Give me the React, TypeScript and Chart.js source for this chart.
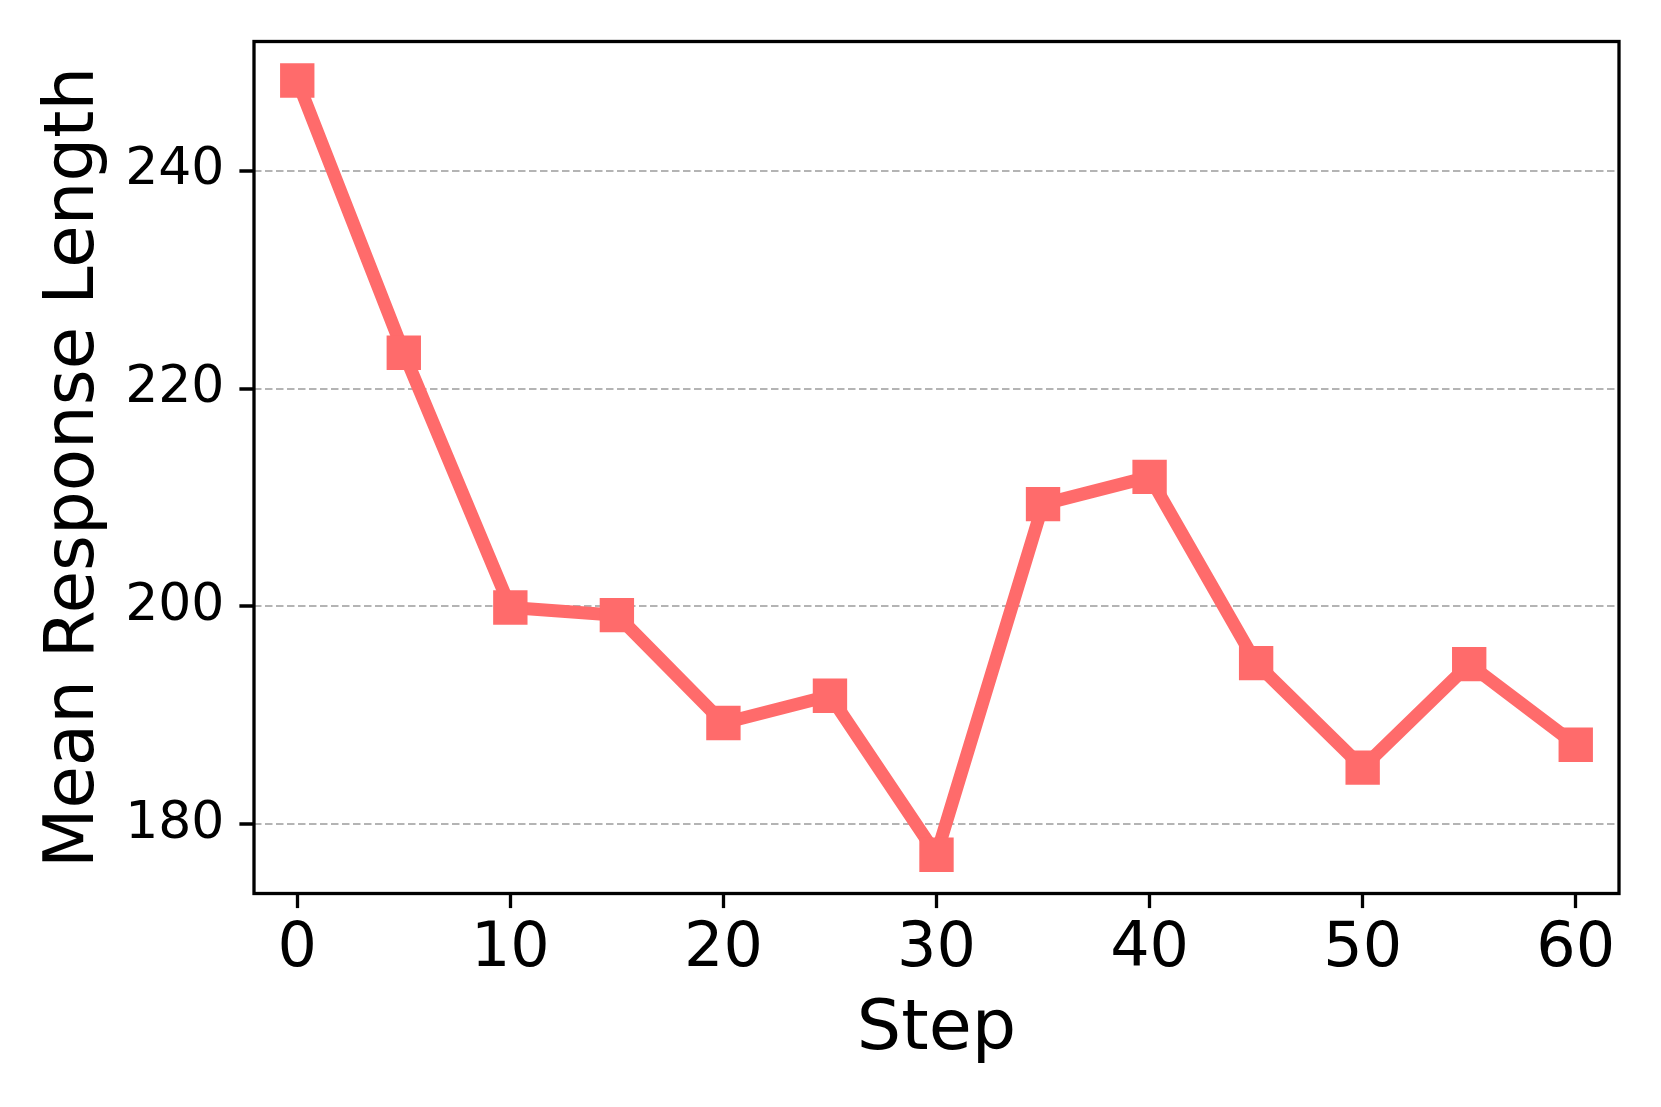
import React, { useEffect, useRef } from "react";
import { Chart, registerables } from "chart.js";

Chart.register(...registerables);

const steps = [0, 5, 10, 15, 20, 25, 30, 35, 40, 45, 50, 55, 60];
const meanLength = [248.3, 223.3, 199.9, 199.2, 189.3, 191.8, 177.2, 209.4, 211.9, 194.8, 185.2, 194.7, 187.3];
const xTicks = [0, 10, 20, 30, 40, 50, 60];
const yTicks = [180, 200, 220, 240];
const xRange = [-2.03, 62.03];
const yRange = [173.64, 251.88];

const W = 1661;
const H = 1107;
const FONT = "'DejaVu Sans', sans-serif";

const framePlugin = {
  id: "frame",
  afterDraw(chart: any) {
    const { ctx, chartArea } = chart;
    ctx.save();
    ctx.strokeStyle = "#000000";
    ctx.lineWidth = 3.3;
    ctx.strokeRect(chartArea.left, chartArea.top, chartArea.right - chartArea.left, chartArea.bottom - chartArea.top);
    ctx.restore();
  },
};

export default function App() {
  const ref = useRef<HTMLCanvasElement | null>(null);

  useEffect(() => {
    document.body.style.margin = "0";
    const canvas = ref.current;
    if (!canvas) return;
    const chart = new Chart(canvas, {
      type: "line",
      data: {
        datasets: [
          {
            label: "Mean Response Length",
            data: steps.map((s, i) => ({ x: s, y: meanLength[i] })),
            borderColor: "#FF6B6B",
            backgroundColor: "#FF6B6B",
            borderWidth: 13,
            borderJoinStyle: "round",
            pointStyle: "rect",
            pointRadius: 24.3,
            pointHoverRadius: 24.3,
            pointBorderWidth: 0,
            pointBackgroundColor: "#FF6B6B",
            tension: 0,
            fill: false,
          },
        ],
      },
      options: {
        animation: false,
        responsive: false,
        devicePixelRatio: 1,
        events: [],
        layout: { padding: { top: 41.5, right: 42, left: 0, bottom: 0 } },
        plugins: {
          legend: { display: false },
          tooltip: { enabled: false },
        },
        scales: {
          x: {
            type: "linear",
            min: xRange[0],
            max: xRange[1],
            afterFit(scale: any) {
              scale.height = H - 893.5;
              scale.paddingLeft = 0;
              scale.paddingRight = 0;
            },
            afterBuildTicks(scale: any) {
              scale.ticks = xTicks.map((v) => ({ value: v }));
            },
            grid: {
              display: true,
              drawOnChartArea: false,
              drawTicks: true,
              tickLength: 14.6,
              tickColor: "#000000",
              tickWidth: 3.3,
            },
            border: { display: false },
            ticks: {
              color: "#000000",
              padding: 5,
              maxRotation: 0,
              autoSkip: false,
              font: { family: FONT, size: 62 },
              callback: (v: any) => String(v),
            },
            title: {
              display: true,
              text: "Step",
              color: "#000000",
              font: { family: FONT, size: 70 },
              padding: { top: 0, bottom: 34 },
            },
          },
          y: {
            type: "linear",
            min: yRange[0],
            max: yRange[1],
            afterFit(scale: any) {
              scale.width = 254;
              scale.paddingTop = 0;
              scale.paddingBottom = 0;
            },
            afterBuildTicks(scale: any) {
              scale.ticks = yTicks.map((v) => ({ value: v }));
            },
            grid: {
              display: true,
              drawOnChartArea: true,
              drawTicks: true,
              color: "rgba(176,176,176,0.95)",
              lineWidth: 2,
              tickLength: 14.6,
              tickColor: "#000000",
              tickWidth: 3.3,
              tickBorderDash: [1, 0],
            },
            border: { display: false, dash: [7.5, 3.5] },
            ticks: {
              color: "#000000",
              padding: 15,
              autoSkip: false,
              font: { family: FONT, size: 52 },
              callback: (v: any) => String(v),
            },
            title: {
              display: true,
              text: "Mean Response Length",
              color: "#000000",
              font: { family: FONT, size: 69 },
              padding: { top: 34, bottom: 0 },
            },
          },
        },
      },
      plugins: [framePlugin],
    } as any);
    return () => chart.destroy();
  }, []);

  return (
    <div style={{ width: W, height: H, background: "#ffffff" }}>
      <canvas ref={ref} width={W} height={H} style={{ display: "block", width: W, height: H }} />
    </div>
  );
}
